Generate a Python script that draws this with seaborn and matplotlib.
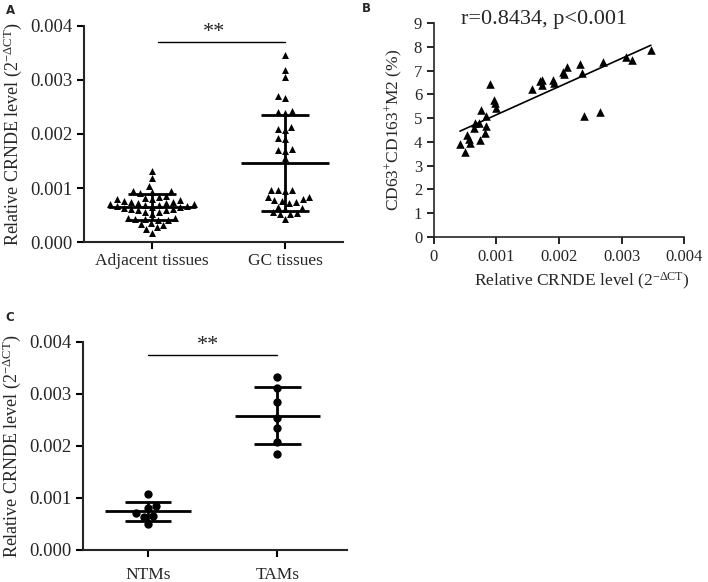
import numpy as np
import pandas as pd
import matplotlib
matplotlib.use("Agg")
import matplotlib.pyplot as plt
import seaborn as sns

# Panel A: CRNDE level in adjacent vs GC tissues
adjacent_vals = [0.00131, 0.00118, 0.00104,
                 0.00094, 0.00092, 0.00095, 0.00091,
                 0.00084, 0.00086, 0.00082,
                 0.00079, 0.00077, 0.00080,
                 0.00075, 0.00071, 0.00073, 0.00069, 0.00074,
                 0.00072, 0.00068, 0.00070, 0.00076, 0.00067,
                 0.00064, 0.00061, 0.00065, 0.00063, 0.00059, 0.00066, 0.00060, 0.00062,
                 0.00055, 0.00052, 0.00056,
                 0.00044, 0.00041, 0.00043, 0.00040, 0.00042, 0.00045,
                 0.00033, 0.00035, 0.00031,
                 0.00027, 0.00025,
                 0.00017]
gc_vals = [0.00346, 0.00319, 0.00306, 0.00270, 0.00266, 0.00242, 0.00240, 0.00238,
           0.00213, 0.00209, 0.00207, 0.00192, 0.00190, 0.00172, 0.00170, 0.00169,
           0.00156, 0.00097, 0.00096, 0.00095, 0.00097, 0.00084, 0.00083, 0.00079,
           0.00078, 0.00076, 0.00074, 0.00073, 0.00064, 0.00063, 0.00062, 0.00055,
           0.00054, 0.00052, 0.00051, 0.00042]
tissue_labels = ["Adjacent tissues", "GC tissues"]

# Panel B: CRNDE level vs CD63+CD163+ M2 percentage
crnde_level = [0.000416, 0.000496, 0.000533, 0.00056, 0.000576, 0.00064, 0.00065,
               0.00072, 0.00073, 0.00076, 0.00081, 0.00083, 0.00084, 0.00089,
               0.00096, 0.00097, 0.00099, 0.00157, 0.00170, 0.00172, 0.00172,
               0.00191, 0.00192, 0.00206, 0.00208, 0.00212, 0.00234, 0.00236,
               0.00240, 0.00266, 0.00271, 0.00307, 0.00317, 0.00347]
m2_pct = [3.91, 3.59, 4.29, 4.11, 3.94, 4.57, 4.81,
          4.78, 4.08, 5.34, 4.36, 4.67, 5.09, 6.43,
          5.77, 5.62, 5.41, 6.22, 6.54, 6.61, 6.40,
          6.61, 6.47, 6.96, 6.85, 7.17, 7.28, 6.89,
          5.10, 5.27, 7.35, 7.56, 7.45, 7.87]
corr_text = "r=0.8434, p<0.001"

# Panel C: CRNDE level in NTMs vs TAMs
ntm_vals = [0.00107, 0.00085, 0.00080, 0.00071, 0.00066, 0.00064, 0.00050]
tam_vals = [0.00333, 0.00312, 0.00285, 0.00253, 0.00235, 0.00208, 0.00184]
cell_labels = ["NTMs", "TAMs"]

crnde_ticks = [0.000, 0.001, 0.002, 0.003, 0.004]

sns.set_style("ticks")
plt.rcParams["font.family"] = ["Liberation Serif", "DejaVu Serif"]
plt.rcParams["mathtext.fontset"] = "custom"
plt.rcParams["mathtext.rm"] = "Liberation Serif"
plt.rcParams["mathtext.it"] = "Liberation Serif:italic"
plt.rcParams["mathtext.bf"] = "Liberation Serif:bold"

YLAB = r"Relative CRNDE level (2$^{\mathrm{-ΔCT}}$)"

W, H = 708, 582
fig = plt.figure(figsize=(W / 100, H / 100), dpi=100)


def px_axes(left, top, right, bottom):
    return fig.add_axes([left / W, 1 - bottom / H, (right - left) / W, (bottom - top) / H])


def dot_plot(ax, groups, labels, marker, size):
    df = pd.DataFrame({
        "group": np.repeat(labels, [len(g) for g in groups]),
        "value": np.concatenate(groups),
    })
    sns.swarmplot(data=df, x="group", y="value", order=labels, marker=marker,
                  size=size, color="black", linewidth=0, ax=ax)
    # mean with SD bars
    stats = df.groupby("group")["value"].agg(["mean", "std"]).reindex(labels)
    for i, (m, s) in enumerate(zip(stats["mean"], stats["std"])):
        ax.hlines(m, i - 0.33, i + 0.33, color="black", lw=2, zorder=4)
        ax.vlines(i, m - s, m + s, color="black", lw=2, zorder=4)
        ax.hlines([m - s, m + s], i - 0.18, i + 0.18, color="black", lw=2, zorder=4)


def style_dot_axes(ax, xlim, pad):
    ax.set_ylim(0, 0.004)
    ax.set_xlim(*xlim)
    ax.set_yticks(crnde_ticks)
    ax.set_yticklabels([f"{t:.3f}" for t in crnde_ticks], fontsize=13.5)
    ax.set_xlabel("")
    ax.set_ylabel(YLAB, fontsize=13, labelpad=4)
    for lbl in ax.get_xticklabels():
        lbl.set_fontsize(12.5)
    sns.despine(ax=ax)
    for sp in ["left", "bottom"]:
        ax.spines[sp].set_linewidth(1.5)
    ax.tick_params(axis="both", width=1.5, length=5, color="black")
    ax.tick_params(axis="x", pad=pad)


# ---- Panel A
axA = px_axes(84, 26, 343, 242)
dot_plot(axA, [adjacent_vals, gc_vals], tissue_labels, "^", 5)
style_dot_axes(axA, (-0.511, 1.436), 3)
axA.plot([0.045, 1.0], [0.00371, 0.00371], color="black", lw=1, clip_on=False)
axA.text(0.47, 0.00388, "**", ha="center", va="center", fontsize=16)

# ---- Panel B
axB = px_axes(434, 23, 684, 237)
sns.regplot(x=crnde_level, y=m2_pct, ci=None, marker="^", color="black",
            scatter_kws={"s": 38, "linewidths": 0, "alpha": 1},
            line_kws={"lw": 1.2}, ax=axB)
axB.set_xlim(0, 0.004)
axB.set_ylim(0, 9)
axB.set_xticks(crnde_ticks)
axB.set_xticklabels(["0", "0.001", "0.002", "0.003", "0.004"], fontsize=12)
axB.set_yticks(range(10))
axB.set_yticklabels([str(v) for v in range(10)], fontsize=12)
axB.set_xlabel(YLAB, fontsize=12.5, labelpad=6)
axB.xaxis.set_label_coords(0.59, -0.16)
axB.set_ylabel(r"CD63$^{+}$CD163$^{+}$M2 (%)", fontsize=12.5, labelpad=6)
sns.despine(ax=axB)
for sp in ["left", "bottom"]:
    axB.spines[sp].set_linewidth(1.2)
axB.tick_params(axis="both", width=1.2, length=5, color="black")
axB.text(0.44, 1.015, corr_text, transform=axB.transAxes, ha="center", va="center",
         fontsize=16)

# ---- Panel C
axC = px_axes(83, 342, 347, 550)
dot_plot(axC, [ntm_vals, tam_vals], cell_labels, "o", 6)
style_dot_axes(axC, (-0.504, 1.54), 7)
axC.plot([0.0, 1.0], [0.00375, 0.00375], color="black", lw=1, clip_on=False)
axC.text(0.465, 0.00394, "**", ha="center", va="center", fontsize=16)

# panel letters
for x, y, letter in [(6, 10, "A"), (362, 9, "B"), (5, 318, "C")]:
    fig.text(x / W, 1 - y / H, letter, fontfamily="DejaVu Sans", fontweight="bold",
             fontsize=8.5, ha="left", va="center")

fig.savefig("out.png", dpi=100)
